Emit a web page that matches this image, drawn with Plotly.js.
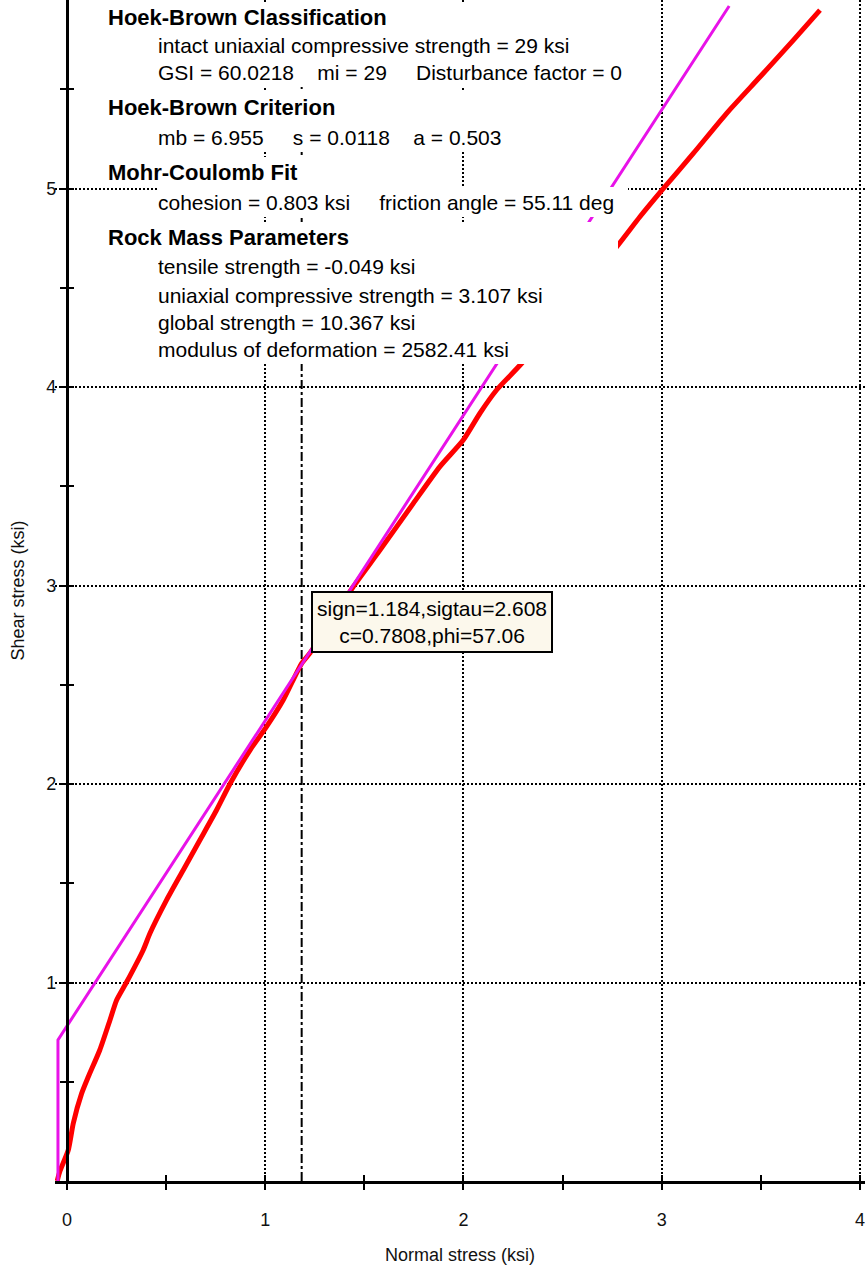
<!DOCTYPE html>
<html><head><meta charset="utf-8">
<script src="https://cdn.plot.ly/plotly-3.0.1.min.js"></script>
<style>html,body{margin:0;padding:0;background:#fff}</style>
</head><body><div id="chart" style="width:865px;height:1268px"></div>
<script>
// ---- data ----
const xRange = [-0.06, 4.025];
const yRange = [0, 5.95];
const xTickVals = [0, 1, 2, 3, 4];
const xTickText = ['0', '1', '2', '3', '4'];
const xMinorTicks = [0.5, 1.5, 2.5, 3.5];
const yTickVals = [1, 2, 3, 4, 5];
const yTickText = ['1', '2', '3', '4', '5'];
const yMinorTicks = [0.5, 1.5, 2.5, 3.5, 4.5, 5.5];

// Hoek-Brown failure envelope (red)
const hbX = [-0.049, -0.035, 0.007, 0.032, 0.074, 0.108, 0.166, 0.217, 0.25, 0.30, 0.385, 0.419, 0.503, 0.587, 0.671, 0.755, 0.822, 0.923, 1.007, 1.091, 1.184, 1.226, 1.30, 1.37, 1.444, 1.58, 1.747, 1.881, 1.999, 2.083, 2.167, 2.294,
             2.773, 2.890, 3.001, 3.159, 3.327, 3.496, 3.664, 3.798];
const hbY = [0, 0.05, 0.156, 0.29, 0.44, 0.525, 0.66, 0.81, 0.91, 1.0, 1.164, 1.248, 1.416, 1.567, 1.718, 1.869, 2.0, 2.17, 2.289, 2.423, 2.608, 2.66, 2.77, 2.88, 2.994, 3.18, 3.414, 3.599, 3.733, 3.868, 3.985, 4.12,
             4.707, 4.858, 4.992, 5.177, 5.379, 5.563, 5.748, 5.899];

// Mohr-Coulomb tangent line (magenta)
const mcX = [-0.045, -0.045, 3.34];
const mcY = [0, 0.711, 5.92];

// tangent point
const tangentSign = 1.184;
const tangentTau = 2.608;
const tangentC = 0.7808;
const tangentPhi = 57.06;

// text block
const g4 = '\u00a0\u00a0\u00a0\u00a0';
const g5 = '\u00a0\u00a0\u00a0\u00a0\u00a0';
const sectionTitles = ['Hoek-Brown Classification', 'Hoek-Brown Criterion', 'Mohr-Coulomb Fit', 'Rock Mass Parameters'];
const sectionLines = [
  ['intact uniaxial compressive strength = 29 ksi', 'GSI = 60.0218' + g4 + 'mi = 29' + g5 + 'Disturbance factor = 0'],
  ['mb = 6.955' + g5 + 's = 0.0118' + g4 + 'a = 0.503'],
  ['cohesion = 0.803 ksi' + g5 + 'friction angle = 55.11 deg'],
  ['tensile strength = -0.049 ksi', 'uniaxial compressive strength = 3.107 ksi', 'global strength = 10.367 ksi', 'modulus of deformation = 2582.41 ksi']
];

// ---- layout helpers ----
const W = 865, H = 1268;
const M = {l: 55, r: 0, t: 0, b: 87};
const plotW = W - M.l - M.r, plotH = H - M.t - M.b;
const px2paperX = p => (p - M.l) / plotW;
const py2paperY = p => 1 - (p - M.t) / plotH;

const rowCenters = [[17, 45, 72], [107, 137], [172, 202], [237, 266, 295, 322, 349]];
const rowRight = [[650, 650, 650], [525, 525], [420, 628], [618, 618, 618, 618, 618]];
const titleLeft = 108, lineLeft = 158, rowH = 30;
const FONT = 'Arial, "Liberation Sans", sans-serif';

const annotations = [];
sectionTitles.forEach((t, s) => {
  const rows = [t].concat(sectionLines[s]);
  rows.forEach((txt, r) => {
    const left = r === 0 ? titleLeft : lineLeft;
    annotations.push({
      xref: 'paper', yref: 'paper',
      x: px2paperX(left), y: py2paperY(rowCenters[s][r]),
      xanchor: 'left', yanchor: 'middle',
      text: txt, showarrow: false, align: 'left', valign: 'middle',
      width: rowRight[s][r] - left, height: rowH,
      bgcolor: '#ffffff', borderpad: 0, borderwidth: 0,
      font: r === 0 ? {family: FONT, size: 22, weight: 700, color: '#000'} : {family: FONT, size: 21, color: '#000'}
    });
  });
});
annotations.push({
  xref: 'x', yref: 'y', x: tangentSign, y: tangentTau,
  xanchor: 'left', yanchor: 'top', xshift: 9, yshift: 72,
  text: 'sign=' + tangentSign + ',sigtau=' + tangentTau + '<br>c=' + tangentC + ',phi=' + tangentPhi,
  showarrow: false, align: 'center',
  bgcolor: '#fcf8ec', bordercolor: '#000', borderwidth: 2, borderpad: 4,
  font: {family: FONT, size: 21, color: '#000'}
});

const yPos = (0 - xRange[0]) / (xRange[1] - xRange[0]);
const gridStyle = {showgrid: true, gridcolor: '#000', gridwidth: 2, griddash: '2px,2px'};

const traces = [
  {x: [tangentSign, tangentSign], y: [yRange[0], yRange[1]], mode: 'lines', line: {color: '#000', width: 2, dash: 'dashdot'}, hoverinfo: 'skip'},
  {x: hbX, y: hbY, mode: 'lines', line: {color: '#ff0000', width: 5, shape: 'spline', smoothing: 0.6}},
  {x: mcX, y: mcY, mode: 'lines', line: {color: '#e812e8', width: 3}},
  {x: [], y: [], xaxis: 'x2', yaxis: 'y2', mode: 'lines'}
];

const layout = {
  width: W, height: H, margin: M,
  paper_bgcolor: '#fff', plot_bgcolor: '#fff', showlegend: false,
  font: {family: FONT, size: 18, color: '#000'},
  xaxis: Object.assign({
    range: xRange, tickvals: xTickVals, ticktext: xTickText,
    ticks: 'outside', ticklen: 6, tickwidth: 2, tickcolor: '#000',
    showline: true, linecolor: '#000', linewidth: 3, zeroline: false,
    ticklabelstandoff: 14, ticklabeloverflow: 'allow', tickfont: {size: 18, color: '#111'},
    minor: {tickvals: xMinorTicks, ticks: 'outside', ticklen: 6, tickwidth: 2, tickcolor: '#000', showgrid: false},
    title: {text: 'Normal stress (ksi)', standoff: 20, font: {size: 18, color: '#111'}}
  }, gridStyle),
  yaxis: Object.assign({
    range: yRange, anchor: 'free', position: yPos,
    tickvals: yTickVals, ticktext: yTickText,
    ticks: 'outside', ticklen: 6, tickwidth: 2, tickcolor: '#000',
    showline: true, linecolor: '#000', linewidth: 3, zeroline: false,
    ticklabeloverflow: 'allow', tickfont: {size: 18, color: '#111'},
    minor: {tickvals: yMinorTicks, ticks: 'outside', ticklen: 6, tickwidth: 2, tickcolor: '#000', showgrid: false},
    title: {text: 'Shear stress (ksi)', standoff: 15, font: {size: 18, color: '#111'}}
  }, gridStyle),
  xaxis2: {
    overlaying: 'x', anchor: 'y', range: xRange, tickvals: xTickVals,
    ticks: 'inside', ticklen: 6, tickwidth: 2, tickcolor: '#000',
    showticklabels: false, showgrid: false, showline: false, zeroline: false,
    minor: {tickvals: xMinorTicks, ticks: 'inside', ticklen: 6, tickwidth: 2, tickcolor: '#000', showgrid: false}
  },
  yaxis2: {
    overlaying: 'y', anchor: 'free', position: yPos, range: yRange, tickvals: yTickVals,
    ticks: 'inside', ticklen: 6, tickwidth: 2, tickcolor: '#000',
    showticklabels: false, showgrid: false, showline: false, zeroline: false,
    minor: {tickvals: yMinorTicks, ticks: 'inside', ticklen: 6, tickwidth: 2, tickcolor: '#000', showgrid: false}
  },
  shapes: [{type: 'rect', xref: 'x', yref: 'paper', x0: xRange[0], x1: 0, y0: 0, y1: 1,
            fillcolor: '#fff', line: {width: 0}, layer: 'between'}],
  annotations: annotations
};

Plotly.newPlot('chart', traces, layout, {displayModeBar: false, staticPlot: true});
</script>
</body></html>
